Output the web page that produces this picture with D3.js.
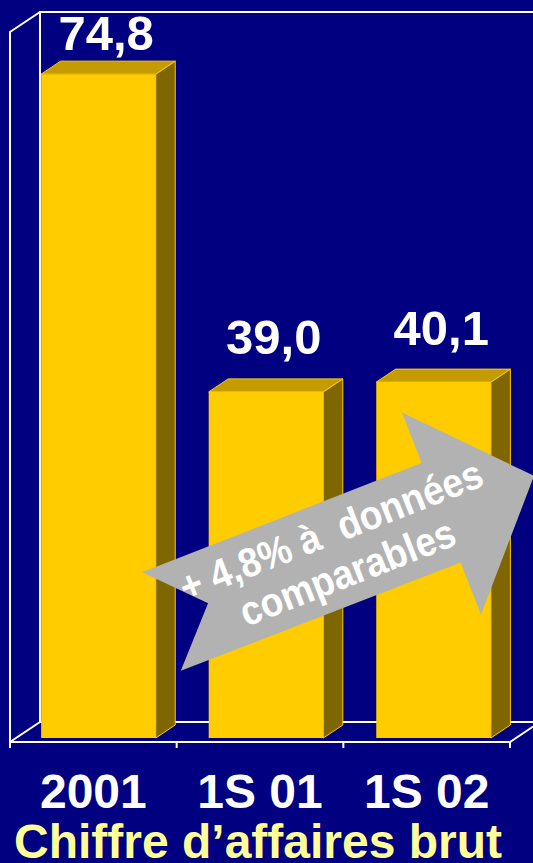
<!DOCTYPE html>
<html>
<head>
<meta charset="utf-8">
<script src="https://cdn.jsdelivr.net/npm/d3@7"></script>
<style>
  html, body { margin: 0; padding: 0; background: #000080; }
  svg { display: block; }
</style>
</head>
<body>
<div id="chart"></div>
<script>
// chart data
const categories = ["2001", "1S 01", "1S 02"];
const values = [74.8, 39.0, 40.1];
const valueLabels = ["74,8", "39,0", "40,1"];
const yMax = 80;
const title = "Chiffre d\u2019affaires brut";
const arrowLines = ["+ 4,8% \u00e0  donn\u00e9es", "comparables"];

const width = 533, height = 863;
const font = "Arial, 'Liberation Sans', Helvetica, sans-serif";

// 3d depth vector (for z = 0..1 across the floor)
const DX = 30, DY = -20;
const zFront = 0.2, zBack = 0.85;

const svg = d3.select("#chart").append("svg")
    .attr("width", width)
    .attr("height", height)
    .attr("viewBox", `0 0 ${width} ${height}`);

svg.append("rect")
    .attr("width", width)
    .attr("height", height)
    .attr("fill", "#000080");

const xCat = d3.scaleBand()
    .domain(categories)
    .range([10, 510]);

const xBar = d3.scaleBand()
    .domain(categories)
    .range([10, 510])
    .paddingInner(0.316)
    .paddingOuter(0.15);

const y = d3.scaleLinear()
    .domain([0, yMax])
    .range([742, 32]);

// project a point (x, value, depth) to screen
function P(x, v, z) {
    return [x + z * DX, y(v) + z * DY];
}

const line = d3.line();
const gridColor = "#ffffff";

// walls and floor
const frame = svg.append("g")
    .attr("fill", "none")
    .attr("stroke", gridColor)
    .attr("stroke-width", 2);

const x0 = xCat.range()[0], x1 = xCat.range()[1];

// left wall
frame.append("path").attr("d", line([P(x0, 0, 0), P(x0, yMax, 0), P(x0, yMax, 1)]));
frame.append("path").attr("d", line([P(x0, 0, 0), P(x0, 0, 1)]));
// back wall
frame.append("path").attr("d", line([P(x0, 0, 1), P(x0, yMax, 1), P(x1, yMax, 1)]));
// floor
frame.append("path").attr("d", line([P(x0, 0, 1), P(x1, 0, 1), P(x1, 0, 0), P(x0, 0, 0)]));

// ticks at category boundaries
const boundaries = categories.map(c => xCat(c)).concat([x1]);
frame.selectAll("line.tick")
    .data(boundaries)
    .join("line")
    .attr("class", "tick")
    .attr("x1", d => d)
    .attr("x2", d => d)
    .attr("y1", y(0))
    .attr("y2", y(0) + 6);

const barData = categories.map((c, i) => ({ cat: c, value: values[i], label: valueLabels[i] }));

// bars
const bars = svg.append("g")
    .selectAll("g.bar")
    .data(barData)
    .join("g")
    .attr("class", "bar")
    .attr("stroke", "#ffcc00")
    .attr("stroke-width", 1)
    .attr("stroke-linejoin", "round");

// side face
bars.append("path")
    .attr("fill", "#806600")
    .attr("d", d => {
        const xr = xBar(d.cat) + xBar.bandwidth();
        return line([P(xr, d.value, zFront), P(xr, d.value, zBack), P(xr, 0, zBack), P(xr, 0, zFront)]) + "Z";
    });

// top face
bars.append("path")
    .attr("fill", "#c49c00")
    .attr("d", d => {
        const xl = xBar(d.cat), xr = xl + xBar.bandwidth();
        return line([P(xl, d.value, zFront), P(xr, d.value, zFront), P(xr, d.value, zBack), P(xl, d.value, zBack)]) + "Z";
    });

// front face
bars.append("path")
    .attr("fill", "#ffcc00")
    .attr("stroke", "none")
    .attr("d", d => {
        const xl = xBar(d.cat), xr = xl + xBar.bandwidth();
        return line([P(xl, d.value, zFront), P(xr, d.value, zFront), P(xr, 0, zFront), P(xl, 0, zFront)]) + "Z";
    });

// value labels above the top face (kept inside the plot at the top)
svg.append("g")
    .selectAll("text")
    .data(barData)
    .join("text")
    .attr("x", d => P(xBar(d.cat) + xBar.bandwidth() / 2, d.value, (zFront + zBack) / 2)[0] - 2)
    .attr("y", d => Math.max(50, P(0, d.value, (zFront + zBack) / 2)[1] - 31))
    .attr("text-anchor", "middle")
    .attr("fill", "#ffffff")
    .style("font-family", font)
    .style("font-weight", "bold")
    .style("font-size", "49px")
    .text(d => d.label);

// category labels
svg.append("g")
    .selectAll("text")
    .data(categories)
    .join("text")
    .attr("x", d => xCat(d) + xCat.bandwidth() / 2)
    .attr("y", 808)
    .attr("text-anchor", "middle")
    .attr("fill", "#ffffff")
    .style("font-family", font)
    .style("font-weight", "bold")
    .style("font-size", "48px")
    .text(d => d);

// title
svg.append("text")
    .attr("x", 258)
    .attr("y", 858)
    .attr("text-anchor", "middle")
    .attr("fill", "#ffff99")
    .style("font-family", font)
    .style("font-weight", "bold")
    .style("font-size", "48px")
    .text(title);

// notched arrow annotation (local frame, then rotated)
const arrowShape = [[0, -53], [300, -53], [300, -107], [400, 0], [300, 110], [300, 54], [0, 53], [50, 0]];
const arrowTextLength = [322, 228];
const arrow = svg.append("g")
    .attr("transform", "translate(161.5,621.5) rotate(-21.35)");

arrow.append("path")
    .attr("d", line(arrowShape) + "Z")
    .attr("fill", "#b2b2b2");

arrow.selectAll("text")
    .data(arrowLines)
    .join("text")
    .attr("x", (d, i) => 191 - arrowTextLength[i] / 2)
    .attr("y", (d, i) => i === 0 ? -9 : 36)
    .attr("textLength", (d, i) => arrowTextLength[i])
    .attr("lengthAdjust", "spacingAndGlyphs")
    .attr("fill", "#ffffff")
    .style("font-family", font)
    .style("font-weight", "bold")
    .style("font-size", "41px")
    .style("white-space", "pre")
    .text(d => d);
</script>
</body>
</html>
